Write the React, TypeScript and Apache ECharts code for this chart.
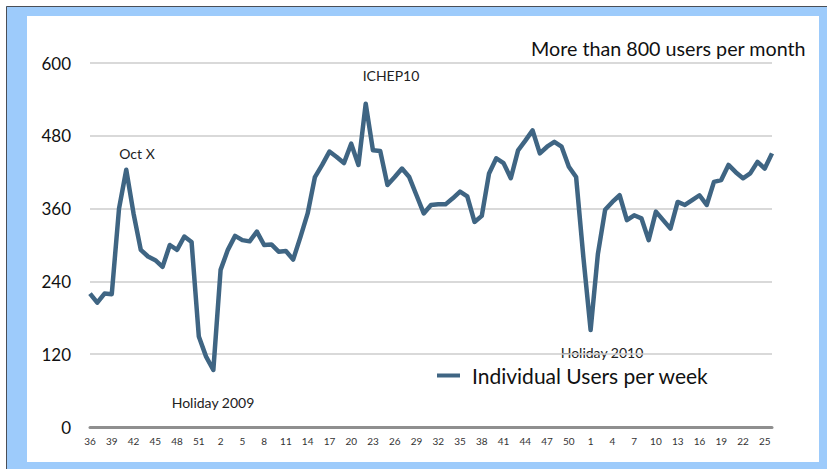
import React, { useEffect, useRef } from "react";
import * as echarts from "echarts";

// Calendar weeks covered by the series (Sept 2009 – June 2011)
const range = (a: number, b: number) => Array.from({ length: b - a + 1 }, (_, i) => String(a + i));
const weeks2009 = range(36, 52);
const weeks2010 = range(1, 52);
const weeks2011 = range(1, 26);
const weeks = [...weeks2009, ...weeks2010, ...weeks2011];

// Individual users per week
const users2009 = [220, 205, 220, 219, 360, 424, 352, 292, 281, 275, 264, 300, 292, 314, 305, 149, 116];
const users2010 = [
  94, 259, 292, 315, 308, 306, 322, 300, 301, 289, 290, 276, 313, 352, 412, 432, 454, 445, 435, 467,
  432, 533, 456, 455, 399, 412, 426, 412, 382, 352, 366, 367, 367, 377, 388, 380, 338, 348, 418, 443,
  435, 410, 456, 472, 489, 451, 462, 470, 462, 429, 412, 280,
];
const users2011 = [160, 285, 358, 371, 382, 341, 349, 344, 308, 355, 341, 327, 371, 366, 374, 382, 366, 404, 407, 432, 420, 410, 418, 437, 426, 451];
const users = [...users2009, ...users2010, ...users2011];

const yTicks = { min: 0, max: 600, interval: 120 };

const FONT = "Lato, 'Open Sans', sans-serif";
const LINE = "#3f6583";

export default function App() {
  const ref = useRef<HTMLDivElement>(null);

  useEffect(() => {
    if (!ref.current) return;
    const chart = echarts.init(ref.current, undefined, { renderer: "svg" });
    const note = (text: string, x: number, y: number) => ({
      type: "text",
      x,
      y,
      style: { text, font: `14px ${FONT}`, fill: "#222", align: "center", verticalAlign: "middle" },
    });
    chart.setOption({
      animation: false,
      backgroundColor: "#ffffff",
      graphic: [
        { type: "rect", z: -10, shape: { x: 6, y: 6, width: 821, height: 463 }, style: { fill: "#9dcbfb" } },
        { type: "line", z: -9, shape: { x1: 6.5, y1: 6.5, x2: 827, y2: 6.5 }, style: { stroke: "#4a4f57", lineWidth: 1 } },
        { type: "line", z: -9, shape: { x1: 6.5, y1: 6.5, x2: 6.5, y2: 469 }, style: { stroke: "#4a4f57", lineWidth: 1 } },
        { type: "rect", z: -8, shape: { x: 27, y: 16, width: 792, height: 446 }, style: { fill: "#ffffff" } },
        note("Oct X", 137, 153),
        note("ICHEP10", 391, 75),
        note("Holiday 2009", 213, 402),
        note("Holiday 2010", 602, 352),
      ],
      title: {
        text: "More than 800 users per month",
        right: 16,
        top: 33,
        textStyle: { fontFamily: FONT, fontSize: 19.7, fontWeight: "normal", color: "#111" },
      },
      legend: {
        left: 432,
        top: 360,
        icon: "rect",
        itemWidth: 23,
        itemHeight: 4,
        textStyle: { fontFamily: FONT, fontSize: 21, color: "#111", padding: [0, 0, 0, 7] },
        data: ["Individual Users per week"],
      },
      grid: { left: 90, right: 55, top: 63, bottom: 42, containLabel: false },
      xAxis: {
        type: "category",
        data: weeks,
        boundaryGap: false,
        axisLine: { show: true, lineStyle: { color: "#8f8f8f", width: 3 } },
        axisTick: { show: false },
        axisLabel: { interval: 2, fontFamily: FONT, fontSize: 10, color: "#333", margin: 9 },
        splitLine: { show: false },
      },
      yAxis: {
        type: "value",
        ...yTicks,
        axisLine: { show: false },
        axisTick: { show: false },
        axisLabel: { fontFamily: FONT, fontSize: 17, color: "#111", margin: 19 },
        splitLine: { lineStyle: { color: "#cdcdcd", width: 1.5 } },
      },
      series: [
        {
          name: "Individual Users per week",
          type: "line",
          data: users,
          showSymbol: false,
          symbol: "none",
          color: LINE,
          lineStyle: { color: LINE, width: 4.5, join: "round" },
        },
      ],
    });
    return () => chart.dispose();
  }, []);

  return <div ref={ref} style={{ position: "fixed", left: 0, top: 0, width: 827, height: 469 }} />;
}
